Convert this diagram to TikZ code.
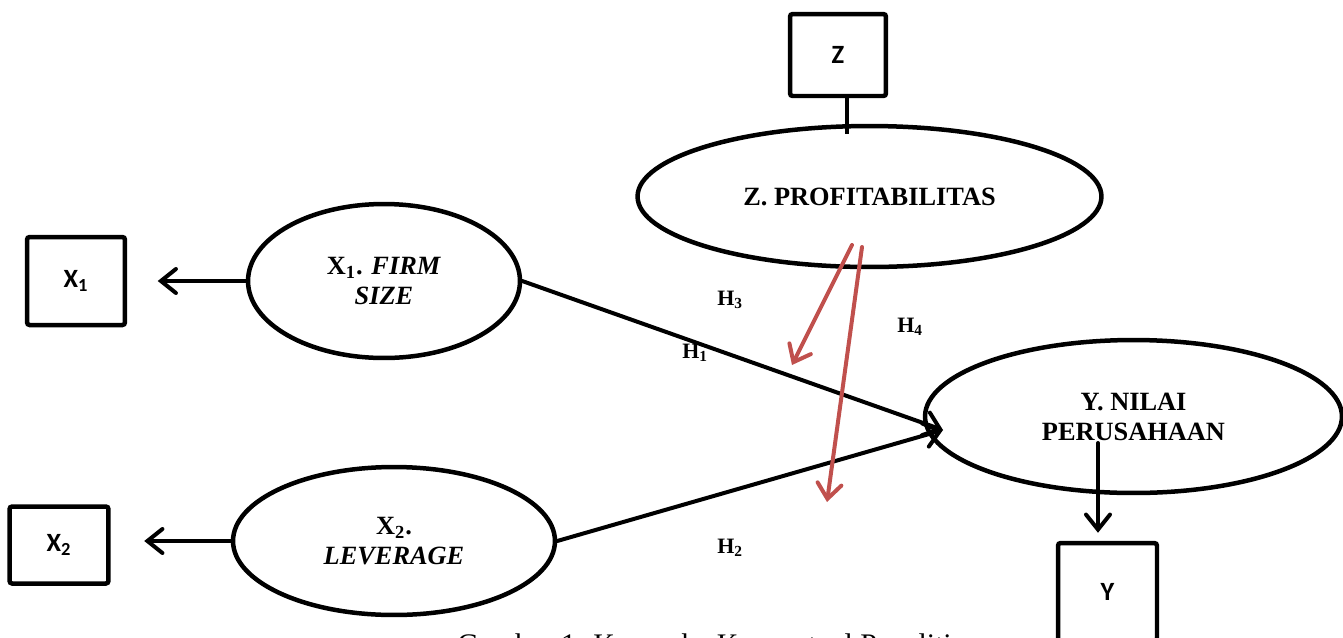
\documentclass[tikz,border=0pt]{standalone}
\usepackage{fontspec}
\setmainfont{Liberation Serif}
\newfontfamily\calfont{Carlito}
\usetikzlibrary{arrows.meta,shapes.geometric}
\definecolor{redarrow}{RGB}{192,80,77}
\begin{document}
\begin{tikzpicture}[x=0.02cm,y=-0.02cm,
  lat/.style={draw,ellipse,line width=0.09cm,inner sep=0pt,align=center,
    font=\fontsize{15}{17}\selectfont\bfseries},
  obs/.style={draw,rectangle,rounded corners=1.5pt,line width=0.09cm,inner sep=0pt,
    font=\calfont\fontsize{15}{18}\selectfont\bfseries},
  conn/.style={line width=0.08cm,line cap=round},
  arr/.style={conn,-{Straight Barb[length=0.3cm,width=0.48cm,line cap=round]}},
  rarr/.style={arr,draw=redarrow},
  hlab/.style={anchor=base west,inner sep=0pt,font=\fontsize{12.5}{14}\selectfont\bfseries},
  captext/.style={anchor=base west,inner sep=0pt,font=\fontsize{17}{20}\selectfont}]
\useasboundingbox (0,0) rectangle (1343,637);
\clip (0,0) rectangle (1343,637);

% latent variables
\node[lat,minimum width=5.44cm,minimum height=3.08cm] (e1) at (384,281)
  {X\textsubscript{1}. \textit{FIRM}\\\textit{SIZE}};
\node[lat,minimum width=6.44cm,minimum height=2.96cm] (e2) at (394,541)
  {X\textsubscript{2}.\\\textit{LEVERAGE}};
\node[lat,minimum width=9.28cm,minimum height=2.82cm] (ez) at (869.5,196.5)
  {Z. PROFITABILITAS};
\node[lat,minimum width=8.34cm,minimum height=3.06cm] (ey) at (1133.5,416.5)
  {Y. NILAI\\PERUSAHAAN};

% indicators
\node[obs,minimum width=1.96cm,minimum height=1.76cm] (b1) at (76,281) {X\textsubscript{1}};
\node[obs,minimum width=1.98cm,minimum height=1.54cm] (b2) at (59,545) {X\textsubscript{2}};
\node[obs,minimum width=1.92cm,minimum height=1.64cm] (bz) at (838,55) {Z};
\node[obs,minimum width=1.98cm,minimum height=1.96cm] (by) at (1107.5,592) {Y};

% coordinates for free ends
\coordinate (yin) at (943,430);
\coordinate (ys) at (1098,443);
\coordinate (zl) at ([xshift=0.18cm]bz.south);
\coordinate (r1s) at (852,245);
\coordinate (r1e) at (792,365);
\coordinate (r2s) at (862,247);
\coordinate (r2e) at (827,502);

% connectors
\draw[arr,shorten >=0.61cm] (e1.west) -- (e1.west -| b1.east);
\draw[arr,shorten >=0.67cm] (e2.west) -- (e2.west -| b2.east);
\draw[conn,line cap=butt,shorten >=-0.2cm] (zl) -- (zl |- ez.north);
\draw[arr,shorten >=0.16cm] (ys) -- (ys |- by.north);
\draw[arr] (e1.east) -- (yin);
\draw[arr] (e2.east) -- (yin);
\draw[rarr] (r1s) -- (r1e);
\draw[rarr] (r2s) -- (r2e);

% hypothesis labels
\node[hlab] (h3) at (717,305) {H\textsubscript{3}};
\node[hlab] (h1) at (682,358) {H\textsubscript{1}};
\node[hlab] (h4) at (897,332) {H\textsubscript{4}};
\node[hlab] (h2) at (717,553) {H\textsubscript{2}};

% caption (cut off at the bottom in the original)
\node[captext] (caption) at (457,654) {Gambar 1. Kerangka Konseptual Penelitian};
\end{tikzpicture}
\end{document}
